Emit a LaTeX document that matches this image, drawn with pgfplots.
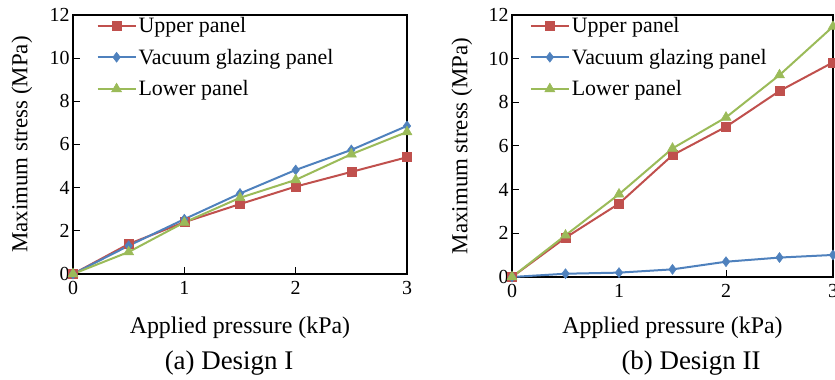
\documentclass[border=0pt]{standalone}
\usepackage{fontspec}
\setmainfont{Liberation Serif}
\usepackage{pgfplots}
\pgfplotsset{compat=1.18}
\definecolor{cred}{HTML}{C0504D}
\definecolor{cblue}{HTML}{4F81BD}
\definecolor{cgreen}{HTML}{9BBB59}
\pgfplotsset{
  myax/.style={
    scale only axis,
    xmin=0, xmax=3, ymin=0, ymax=12,
    xtick={0,1,2,3}, ytick={0,2,...,12},
    xtick pos=lower, ytick pos=left,
    tick align=inside, major tick length=7bp,
    axis line style={line width=1.3bp},
    every tick/.style={black, line width=1bp},
    tick label style={font=\fontsize{20}{24}\selectfont},
    xticklabel style={yshift=-4bp},
    xlabel style={font=\fontsize{24}{28}\selectfont},
    ylabel style={font=\fontsize{23}{27}\selectfont},
    /pgf/number format/assume math mode=true,
    legend style={draw=none, fill=none, font=\fontsize{22}{26}\selectfont,
      inner sep=0pt, row sep=11bp, anchor=north west},
    legend cell align=left,
    legend image code/.code={\draw[mark repeat=2,mark phase=2,##1] plot coordinates {(0bp,0bp)(19bp,0bp)(38bp,0bp)};},
    clip=false,
    xlabel={Applied pressure (kPa)},
    ylabel={Maximum stress (MPa)},
  },
  up/.style={color=cred, line width=2bp, mark=square*, mark size=4.5bp, mark options={fill=cred, line width=0.5bp}},
  vg/.style={color=cblue, line width=2bp, mark=diamond*, mark size=5bp, mark options={fill=cblue, line width=0.5bp}},
  lo/.style={color=cgreen, line width=2bp, mark=triangle*, mark size=5.8bp, mark options={fill=cgreen, line width=0.5bp}},
}
\begin{document}
\begin{tikzpicture}
\begin{axis}[myax, at={(73bp,106bp)}, anchor=south west, width=334bp, height=259bp,
  xlabel style={at={(axis description cs:0.5,-0.2085)}, anchor=center},
  ylabel style={at={(axis description cs:-0.153,0.5)}, anchor=center},
  legend style={at={(0.07,1.0)}}]
\addplot[up] coordinates {(0,0) (0.5,1.39) (1,2.40) (1.5,3.24) (2,4.05) (2.5,4.73) (3,5.41)};
\addlegendentry{Upper panel}
\addplot[vg] coordinates {(0,0) (0.5,1.31) (1,2.54) (1.5,3.73) (2,4.82) (2.5,5.75) (3,6.86)};
\addlegendentry{Vacuum glazing panel}
\addplot[lo] coordinates {(0,0) (0.5,1.02) (1,2.39) (1.5,3.53) (2,4.36) (2.5,5.55) (3,6.58)};
\addlegendentry{Lower panel}
\end{axis}
\begin{axis}[myax, at={(512bp,103bp)}, anchor=south west, width=321bp, height=262bp,
  xlabel style={at={(axis description cs:0.5,-0.195)}, anchor=center},
  ylabel style={at={(axis description cs:-0.156,0.5)}, anchor=center},
  legend style={at={(0.055,1.0)}}]
\addplot[up] coordinates {(0,0) (0.5,1.80) (1,3.36) (1.5,5.58) (2,6.88) (2.5,8.52) (3,9.83)};
\addlegendentry{Upper panel}
\addplot[vg] coordinates {(0,0) (0.5,0.15) (1,0.20) (1.5,0.35) (2,0.70) (2.5,0.89) (3,1.01)};
\addlegendentry{Vacuum glazing panel}
\addplot[lo] coordinates {(0,0) (0.5,1.91) (1,3.79) (1.5,5.89) (2,7.31) (2.5,9.25) (3,11.47)};
\addlegendentry{Lower panel}
\end{axis}
\node[font=\fontsize{27}{31}\selectfont] at (229bp,17bp) {(a) Design I};
\node[font=\fontsize{27}{31}\selectfont] at (691bp,17bp) {(b) Design II};
\pgfresetboundingbox
\path (0bp,0bp) rectangle (835bp,380bp);
\end{tikzpicture}
\end{document}
